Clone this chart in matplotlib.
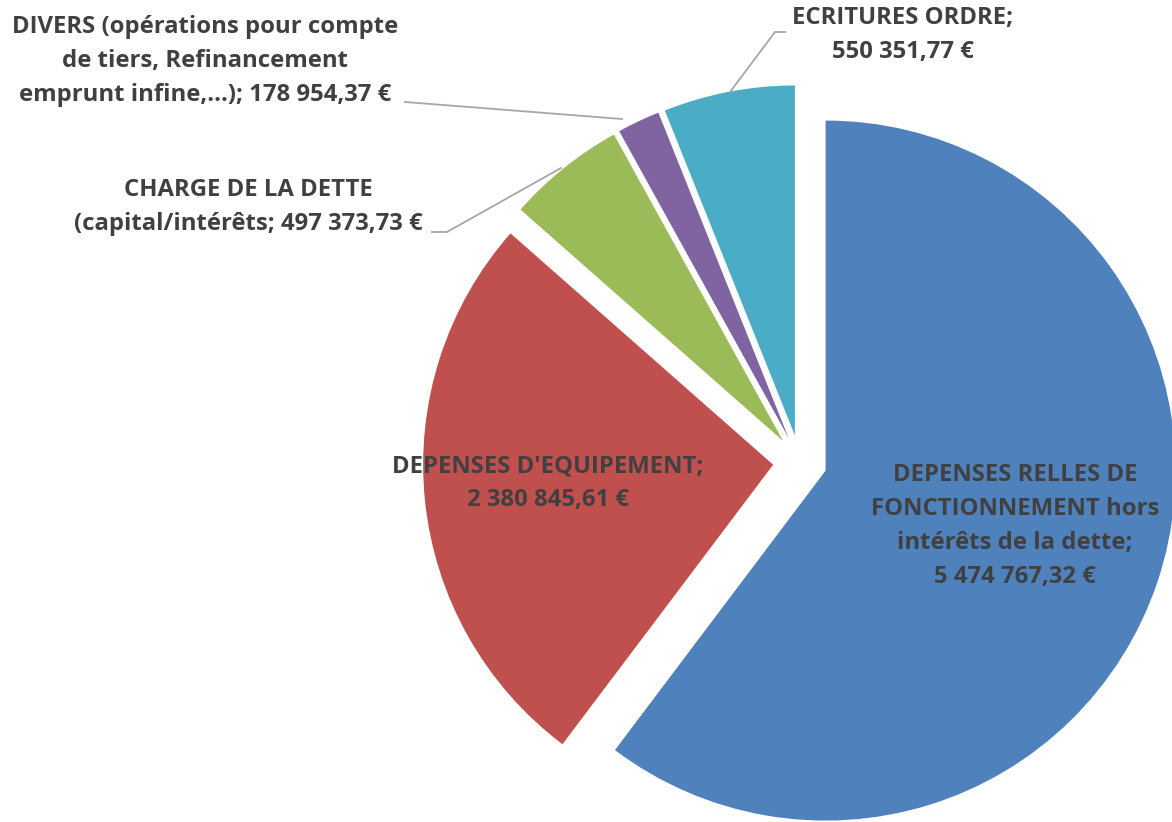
import matplotlib
matplotlib.use('Agg')
import matplotlib.pyplot as plt

# valeurs (en euros)
labels = ['DEPENSES RELLES DE\nFONCTIONNEMENT hors\nintérêts de la dette;\n5 474 767,32 €',
          "DEPENSES D'EQUIPEMENT;\n2 380 845,61 €",
          'CHARGE DE LA DETTE\n(capital/intérêts; 497 373,73 €',
          'DIVERS (opérations pour compte\nde tiers, Refinancement\nemprunt infine,...); 178 954,37 €',
          'ECRITURES ORDRE;\n550 351,77 €']
values = [5474767.32, 2380845.61, 497373.73, 178954.37, 550351.77]
colors = ['#4F81BD', '#C0504D', '#9BBB59', '#8064A2', '#4BACC6']

plt.rcParams['font.family'] = ['Open Sans', 'DejaVu Sans']
txt = '#404040'

fig = plt.figure(figsize=(11.72, 8.22), dpi=100)
ax = fig.add_axes([0, 0, 1, 1])
# axes en pixels (y vers le bas -> valeurs negatives)
ax.pie(values, colors=colors, startangle=90, counterclock=False,
       center=(800, -462), radius=350, explode=[27] * len(values),
       wedgeprops=dict(linewidth=0))
ax.set_xlim(0, 1172)
ax.set_ylim(-822, 0)
ax.set_aspect('equal')
ax.axis('off')

fs = 17.2
kw = dict(ha='center', va='center', fontsize=fs, fontweight='bold',
          color=txt, linespacing=1.55)
ax.text(1015, -526, labels[0], **kw)
ax.text(548, -483, labels[1], **kw)
ax.text(248, -207, labels[2], **kw)
ax.text(205, -61, labels[3], **kw)
ax.text(903, -35, labels[4], **kw)

# lignes de rappel
lc = dict(color='#A6A6A6', linewidth=1.3)
ax.plot([432, 447, 561], [-232, -232, -168], **lc)
ax.plot([405, 622], [-102, -119], **lc)
ax.plot([785, 775, 730], [-32, -32, -92], **lc)

fig.savefig('out.png', dpi=100)
